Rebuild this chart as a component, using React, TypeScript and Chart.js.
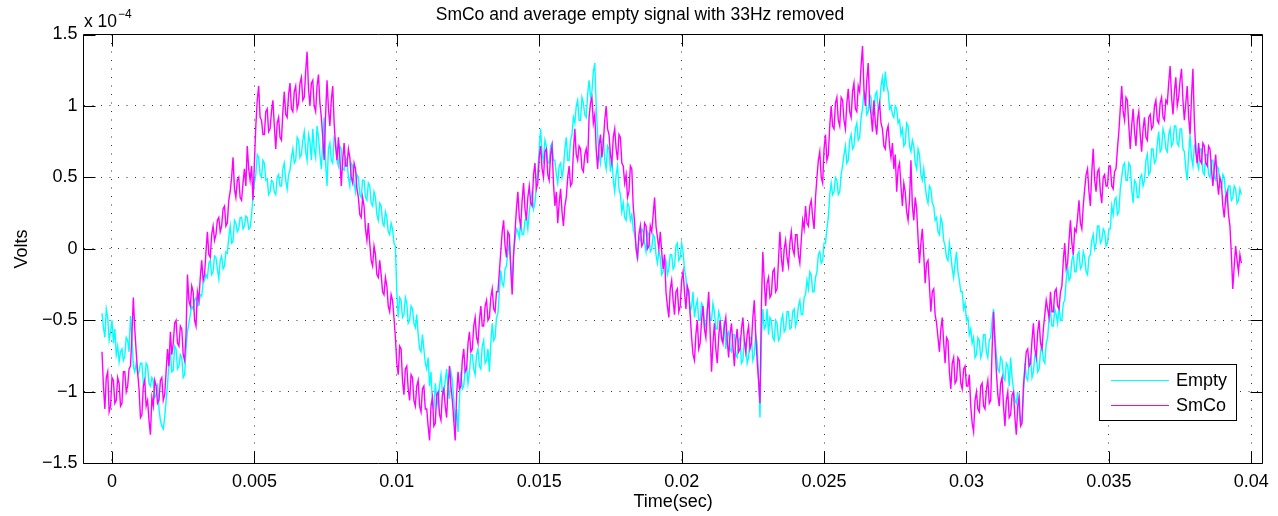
import React, { useEffect, useRef } from "react";
import { Chart, registerables } from "chart.js";

Chart.register(...registerables);

// ---- data (volts, in units of 1e-4) ----
const T0 = -0.00035; // time of first sample (s)
const DT = 0.00005; // sample spacing (s)

const EMPTY = [
  -0.45, -0.55, -0.62, -0.42, -0.48, -0.64, -0.58, -0.50, -0.66, -0.56, -0.74, -0.68, -0.79, -0.72, -0.70, -0.78, -0.75, -0.62, -0.64, -0.72,
  -0.47, -0.62, -0.82, -0.86, -0.80, -0.88, -0.86, -0.80, -0.80, -0.94, -0.92, -0.80, -0.82, -0.94, -0.96, -0.90, -0.92, -1.04, -1.02, -0.94,
  -1.12, -1.20, -1.24, -1.26, -1.18, -1.06, -0.95, -0.80, -0.72, -0.86, -0.85, -0.68, -0.70, -0.84, -0.82, -0.74, -0.76, -0.90, -0.88, -0.70,
  -0.58, -0.52, -0.46, -0.40, -0.42, -0.36, -0.34, -0.40, -0.39, -0.32, -0.33, -0.24, -0.22, -0.18, -0.20, -0.10, -0.08, -0.18, -0.16, -0.05,
  -0.06, -0.14, -0.21, -0.08, -0.05, -0.14, -0.12, -0.02, -0.03, 0.08, 0.16, 0.04, 0.05, 0.20, 0.18, 0.12, 0.14, 0.22, 0.22, 0.14,
  0.16, 0.23, 0.22, 0.14, 0.15, 0.24, 0.36, 0.46, 0.52, 0.66, 0.64, 0.52, 0.50, 0.62, 0.60, 0.48, 0.49, 0.38, 0.40, 0.48,
  0.47, 0.40, 0.38, 0.50, 0.52, 0.44, 0.44, 0.56, 0.60, 0.48, 0.42, 0.52, 0.55, 0.64, 0.70, 0.60, 0.62, 0.78, 0.76, 0.64,
  0.66, 0.76, 0.82, 0.68, 0.62, 0.80, 0.75, 0.62, 0.84, 0.70, 0.64, 0.86, 0.78, 0.66, 0.56, 0.74, 0.92, 0.60, 0.44, 0.70,
  0.74, 0.62, 0.60, 0.78, 0.76, 0.62, 0.58, 0.72, 0.70, 0.56, 0.55, 0.64, 0.62, 0.50, 0.44, 0.60, 0.58, 0.46, 0.40, 0.52,
  0.50, 0.38, 0.36, 0.48, 0.48, 0.36, 0.34, 0.46, 0.44, 0.32, 0.30, 0.40, 0.36, 0.24, 0.20, 0.32, 0.30, 0.18, 0.16, 0.26,
  0.22, 0.12, 0.10, 0.18, 0.14, 0.04, 0.02, -0.30, -0.48, -0.34, -0.36, -0.48, -0.46, -0.34, -0.38, -0.52, -0.50, -0.40, -0.42, -0.52,
  -0.55, -0.46, -0.60, -0.70, -0.72, -0.60, -0.70, -0.80, -0.84, -0.76, -0.96, -0.86, -1.08, -1.12, -0.94, -1.04, -1.10, -0.96, -0.88, -1.00,
  -1.02, -0.92, -0.84, -0.98, -1.05, -0.86, -0.92, -1.06, -1.22, -1.12, -1.28, -1.04, -0.86, -0.98, -0.96, -0.84, -0.82, -0.94, -0.86, -0.74,
  -0.74, -0.84, -0.88, -0.74, -0.70, -0.82, -0.84, -0.68, -0.64, -0.80, -0.78, -0.70, -0.86, -0.66, -0.52, -0.64, -0.62, -0.48, -0.45, -0.30,
  -0.15, -0.24, -0.26, -0.14, -0.12, -0.02, 0.05, -0.10, -0.26, -0.02, 0.06, 0.14, 0.12, 0.08, 0.20, 0.10, 0.10, 0.20, 0.22, 0.14,
  0.26, 0.34, 0.40, 0.28, 0.32, 0.44, 0.55, 0.70, 0.84, 0.66, 0.62, 0.76, 0.72, 0.60, 0.60, 0.72, 0.74, 0.62, 0.62, 0.52,
  0.46, 0.58, 0.60, 0.50, 0.56, 0.70, 0.78, 0.62, 0.62, 0.76, 0.80, 0.92, 0.88, 1.00, 1.04, 0.90, 0.90, 1.06, 1.02, 0.94,
  0.92, 1.08, 1.18, 1.06, 1.10, 1.24, 1.30, 1.00, 0.80, 0.66, 0.60, 0.74, 0.78, 0.62, 0.56, 0.72, 0.70, 0.54, 0.64, 0.48,
  0.40, 0.52, 0.58, 0.42, 0.38, 0.26, 0.32, 0.22, 0.20, 0.32, 0.30, 0.20, 0.24, 0.14, 0.10, 0.02, -0.08, 0.08, 0.06, 0.14,
  0.12, 0.04, -0.02, 0.12, 0.10, -0.02, 0.00, 0.10, 0.08, -0.04, -0.10, -0.02, -0.06, -0.18, -0.16, -0.06, -0.08, -0.18, -0.14, -0.04,
  -0.04, -0.14, -0.12, 0.02, 0.04, -0.08, -0.06, 0.04, -0.02, -0.14, -0.20, -0.32, -0.30, -0.44, -0.40, -0.30, -0.48, -0.40, -0.36, -0.50,
  -0.50, -0.38, -0.40, -0.52, -0.54, -0.42, -0.36, -0.50, -0.50, -0.38, -0.44, -0.56, -0.56, -0.44, -0.48, -0.64, -0.62, -0.50, -0.70, -0.60,
  -0.58, -0.70, -0.72, -0.60, -0.60, -0.74, -0.76, -0.64, -0.62, -0.80, -0.78, -0.64, -0.66, -0.80, -0.76, -0.62, -0.62, -0.78, -0.74, -0.60,
  -0.66, -0.90, -1.18, -0.62, -0.42, -0.56, -0.54, -0.42, -0.60, -0.48, -0.50, -0.62, -0.64, -0.50, -0.52, -0.64, -0.62, -0.50, -0.46, -0.58,
  -0.56, -0.44, -0.44, -0.56, -0.55, -0.44, -0.42, -0.54, -0.50, -0.40, -0.36, -0.46, -0.46, -0.34, -0.32, -0.22, -0.28, -0.16, -0.18, -0.30,
  -0.30, -0.20, -0.16, -0.04, -0.02, -0.10, -0.08, 0.04, 0.04, 0.14, 0.22, 0.38, 0.46, 0.38, 0.40, 0.50, 0.48, 0.38, 0.40, 0.52,
  0.58, 0.66, 0.72, 0.60, 0.62, 0.76, 0.80, 0.70, 0.72, 0.84, 0.88, 0.76, 0.78, 0.92, 0.98, 1.10, 1.08, 0.94, 0.96, 1.08,
  1.06, 0.94, 0.95, 1.08, 1.10, 0.98, 1.00, 1.14, 1.20, 1.10, 1.24, 1.14, 1.10, 0.98, 1.00, 0.94, 0.92, 1.00, 0.98, 0.88,
  0.90, 0.80, 0.84, 0.72, 0.74, 0.88, 0.86, 0.72, 0.68, 0.76, 0.72, 0.60, 0.56, 0.70, 0.66, 0.52, 0.48, 0.56, 0.44, 0.36,
  0.32, 0.44, 0.42, 0.32, 0.30, 0.20, 0.22, 0.12, 0.10, 0.22, 0.18, 0.06, 0.02, -0.06, -0.08, 0.04, -0.04, -0.14, -0.20, -0.10,
  -0.02, -0.16, -0.22, -0.30, -0.30, -0.42, -0.38, -0.50, -0.48, -0.60, -0.56, -0.66, -0.62, -0.76, -0.74, -0.62, -0.64, -0.76, -0.72, -0.60,
  -0.60, -0.72, -0.76, -0.64, -0.62, -0.50, -0.42, -0.62, -0.74, -0.84, -0.86, -0.76, -0.78, -0.90, -0.92, -0.80, -0.82, -0.96, -0.76, -0.90,
  -0.98, -1.06, -1.08, -1.00, -1.14, -1.22, -1.20, -1.02, -0.80, -0.90, -0.92, -0.78, -0.76, -0.90, -0.86, -0.74, -0.72, -0.86, -0.84, -0.72,
  -0.66, -0.78, -0.80, -0.66, -0.62, -0.48, -0.44, -0.54, -0.54, -0.42, -0.46, -0.52, -0.40, -0.50, -0.50, -0.38, -0.36, -0.22, -0.12, -0.22,
  -0.20, -0.08, -0.04, -0.16, -0.16, -0.04, -0.02, -0.14, -0.12, -0.02, -0.06, -0.16, -0.18, -0.06, -0.04, 0.06, 0.10, 0.00, 0.04, 0.16,
  0.16, 0.04, 0.06, 0.14, 0.12, 0.02, 0.04, 0.14, 0.14, 0.30, 0.24, 0.34, 0.36, 0.24, 0.26, 0.42, 0.50, 0.58, 0.60, 0.48,
  0.48, 0.60, 0.58, 0.42, 0.32, 0.48, 0.46, 0.36, 0.36, 0.50, 0.52, 0.44, 0.48, 0.62, 0.66, 0.52, 0.54, 0.70, 0.70, 0.60,
  0.62, 0.74, 0.82, 0.68, 0.70, 0.84, 0.80, 0.70, 0.68, 0.80, 0.84, 0.72, 0.74, 0.86, 0.86, 0.74, 0.72, 0.84, 0.84, 0.70,
  0.68, 0.56, 0.48, 0.66, 0.80, 0.64, 0.58, 0.72, 0.74, 0.60, 0.56, 0.70, 0.70, 0.54, 0.52, 0.66, 0.66, 0.52, 0.50, 0.62,
  0.62, 0.50, 0.48, 0.58, 0.56, 0.44, 0.42, 0.52, 0.50, 0.38, 0.32, 0.44, 0.44, 0.34, 0.36, 0.44, 0.42, 0.32, 0.34, 0.42,
  0.38,
];

const SMCO = [
  -0.72, -0.96, -1.12, -0.90, -0.86, -1.14, -1.10, -0.90, -0.92, -1.08, -1.06, -0.90, -0.94, -1.10, -1.08, -0.86, -0.86, -1.00, -0.96, -0.84,
  -0.82, -0.60, -0.34, -0.56, -0.72, -0.86, -0.98, -1.18, -1.16, -0.96, -0.92, -1.10, -1.06, -1.20, -1.30, -1.04, -1.10, -0.92, -0.96, -1.08,
  -1.06, -0.92, -0.90, -1.06, -1.02, -0.86, -0.70, -0.82, -0.58, -0.74, -0.66, -0.52, -0.50, -0.66, -0.68, -0.54, -0.56, -0.74, -0.78, -0.60,
  -0.18, -0.36, -0.40, -0.26, -0.30, -0.50, -0.54, -0.30, -0.36, -0.20, -0.08, -0.22, -0.18, -0.02, 0.12, -0.04, -0.06, 0.10, 0.16, 0.06,
  0.10, 0.20, 0.22, 0.12, 0.16, 0.28, 0.30, 0.16, 0.18, 0.34, 0.40, 0.50, 0.64, 0.42, 0.36, 0.48, 0.50, 0.36, 0.34, 0.46,
  0.56, 0.44, 0.72, 0.56, 0.48, 0.58, 0.34, 0.60, 0.86, 1.04, 1.14, 0.92, 0.90, 0.80, 0.80, 0.96, 0.98, 0.82, 0.84, 0.96,
  1.04, 0.86, 0.70, 0.88, 0.92, 0.78, 0.76, 0.96, 1.10, 0.94, 0.92, 1.08, 1.16, 0.98, 0.96, 1.10, 1.14, 0.98, 1.02, 1.16,
  1.20, 1.04, 1.06, 1.24, 1.38, 1.12, 1.00, 1.16, 1.18, 1.00, 0.96, 1.14, 1.22, 1.02, 0.92, 0.78, 0.62, 0.94, 1.18, 0.98,
  0.86, 1.04, 1.14, 0.88, 0.72, 0.62, 0.78, 0.64, 0.44, 0.62, 0.74, 0.58, 0.58, 0.70, 0.64, 0.50, 0.46, 0.60, 0.56, 0.42,
  0.36, 0.24, 0.22, 0.36, 0.30, 0.14, 0.06, 0.18, 0.04, -0.08, -0.12, 0.02, -0.04, -0.18, -0.20, -0.08, -0.18, -0.30, -0.32, -0.20,
  -0.26, -0.40, -0.44, -0.32, -0.36, -0.48, -0.62, -0.80, -0.88, -0.68, -0.70, -0.92, -1.02, -0.84, -0.82, -0.98, -1.06, -0.88, -0.90, -1.06,
  -1.10, -0.96, -0.92, -1.10, -1.14, -0.98, -0.96, -1.12, -1.12, -1.24, -1.34, -1.10, -1.04, -1.24, -1.22, -1.02, -1.00, -1.16, -1.20, -1.02,
  -0.98, -1.10, -1.18, -0.96, -0.82, -0.96, -1.06, -1.20, -1.34, -1.02, -0.86, -0.98, -0.96, -0.78, -0.70, -0.86, -0.84, -0.66, -0.58, -0.72,
  -0.70, -0.54, -0.48, -0.62, -0.66, -0.50, -0.40, -0.54, -0.54, -0.40, -0.36, -0.50, -0.48, -0.34, -0.28, -0.42, -0.44, -0.30, -0.30, -0.16,
  -0.02, 0.12, 0.20, 0.02, -0.06, 0.12, 0.10, -0.14, -0.32, -0.04, 0.12, 0.28, 0.40, 0.22, 0.16, 0.34, 0.46, 0.28, 0.20, 0.36,
  0.44, 0.32, 0.30, 0.52, 0.60, 0.42, 0.46, 0.64, 0.72, 0.56, 0.50, 0.68, 0.70, 0.52, 0.48, 0.66, 0.72, 0.46, 0.30, 0.40,
  0.18, 0.32, 0.42, 0.26, 0.16, 0.30, 0.36, 0.50, 0.58, 0.44, 0.46, 0.68, 0.84, 0.66, 0.62, 0.72, 0.70, 0.56, 0.54, 0.66,
  0.70, 0.60, 0.92, 1.02, 1.06, 0.88, 0.94, 0.70, 0.56, 0.72, 0.80, 0.64, 0.74, 0.90, 1.00, 0.84, 0.80, 0.66, 0.60, 0.78,
  0.84, 0.70, 0.62, 0.80, 0.78, 0.60, 0.58, 0.46, 0.52, 0.36, 0.40, 0.58, 0.56, 0.30, 0.18, 0.00, -0.06, 0.10, 0.16, 0.02,
  0.04, 0.18, 0.16, 0.00, 0.02, 0.16, 0.12, 0.24, 0.36, 0.16, 0.08, 0.00, 0.12, -0.02, -0.14, -0.04, -0.30, -0.40, -0.48, -0.28,
  -0.22, -0.36, -0.46, -0.30, -0.28, -0.44, -0.40, -0.22, -0.16, -0.30, -0.42, -0.26, -0.30, -0.46, -0.62, -0.74, -0.78, -0.60, -0.50, -0.70,
  -0.66, -0.50, -0.40, -0.56, -0.62, -0.44, -0.30, -0.58, -0.86, -0.66, -0.52, -0.70, -0.80, -0.62, -0.50, -0.62, -0.66, -0.54, -0.48, -0.64,
  -0.76, -0.60, -0.52, -0.68, -0.82, -0.64, -0.56, -0.72, -0.70, -0.56, -0.48, -0.64, -0.72, -0.60, -0.54, -0.70, -0.66, -0.48, -0.36, -0.60,
  -0.78, -0.92, -1.08, -0.40, -0.02, -0.22, -0.40, -0.24, -0.20, -0.34, -0.32, -0.16, -0.14, -0.30, -0.28, -0.08, 0.12, -0.06, -0.16, 0.00,
  0.06, -0.06, -0.12, 0.04, 0.12, 0.00, -0.04, 0.10, 0.10, -0.04, -0.10, 0.06, 0.20, 0.14, 0.30, 0.18, 0.16, 0.30, 0.34, 0.22,
  0.14, 0.36, 0.50, 0.62, 0.68, 0.50, 0.46, 0.70, 0.80, 0.62, 0.66, 0.86, 1.00, 0.86, 0.84, 1.02, 1.06, 0.90, 0.86, 1.06,
  1.04, 0.90, 0.84, 1.02, 1.12, 0.96, 0.92, 1.10, 1.16, 0.98, 0.96, 1.14, 1.10, 1.28, 1.42, 1.12, 1.00, 1.18, 1.30, 1.02,
  0.94, 0.82, 1.04, 0.88, 0.80, 0.96, 1.02, 0.88, 0.84, 0.72, 0.70, 0.82, 0.86, 0.72, 0.64, 0.74, 0.56, 0.66, 0.40, 0.56,
  0.60, 0.44, 0.30, 0.46, 0.40, 0.26, 0.20, 0.34, 0.62, 0.30, 0.20, 0.36, 0.28, 0.08, -0.10, 0.04, 0.14, -0.04, -0.24, -0.10,
  -0.08, -0.26, -0.44, -0.30, -0.28, -0.46, -0.52, -0.62, -0.72, -0.56, -0.48, -0.66, -0.80, -0.62, -0.64, -0.86, -0.98, -0.80, -0.76, -0.94,
  -0.92, -0.76, -0.78, -0.94, -0.98, -0.84, -0.82, -0.96, -0.96, -0.88, -1.10, -1.22, -1.28, -1.06, -1.00, -1.12, -1.14, -0.96, -0.94, -1.10,
  -1.12, -0.98, -0.92, -1.08, -1.06, -0.70, -0.44, -0.66, -0.86, -1.02, -1.10, -0.94, -0.90, -1.10, -1.24, -1.06, -1.00, -1.18, -1.16, -1.02,
  -1.00, -1.18, -1.30, -1.10, -1.04, -1.24, -1.22, -0.96, -0.84, -0.72, -0.70, -0.82, -0.80, -0.64, -0.52, -0.70, -0.76, -0.58, -0.50, -0.66,
  -0.70, -0.56, -0.46, -0.36, -0.42, -0.48, -0.30, -0.44, -0.44, -0.30, -0.28, -0.40, -0.42, -0.30, -0.26, -0.08, 0.04, -0.14, -0.10, 0.06,
  0.20, 0.04, -0.04, 0.14, 0.12, 0.22, 0.34, 0.18, 0.14, 0.30, 0.42, 0.52, 0.56, 0.40, 0.30, 0.54, 0.70, 0.48, 0.40, 0.54,
  0.56, 0.40, 0.32, 0.50, 0.52, 0.44, 0.44, 0.58, 0.58, 0.44, 0.42, 0.54, 0.56, 0.70, 0.82, 0.98, 1.14, 0.96, 0.90, 1.06,
  1.04, 0.86, 0.70, 0.86, 0.98, 0.82, 0.72, 0.90, 0.96, 0.80, 0.68, 0.84, 0.92, 0.78, 0.76, 0.92, 0.94, 0.84, 0.86, 1.00,
  1.04, 0.90, 0.88, 1.02, 1.06, 0.92, 0.90, 1.04, 1.02, 1.16, 1.28, 1.06, 0.94, 1.10, 1.20, 1.00, 1.06, 1.18, 1.26, 1.04,
  0.90, 1.02, 1.14, 0.92, 0.80, 1.06, 1.26, 0.90, 0.68, 0.60, 0.74, 0.62, 0.60, 0.74, 0.72, 0.60, 0.58, 0.72, 0.70, 0.56,
  0.44, 0.56, 0.66, 0.48, 0.38, 0.50, 0.46, 0.30, 0.22, 0.36, 0.40, 0.24, 0.16, -0.04, -0.28, -0.12, 0.02, -0.08, -0.16, -0.04,
  -0.10,
];

const SERIES_NAMES = ["Empty", "SmCo"];
const SERIES_COLORS = ["#00ffff", "#ff00ff"];

const X_MIN = -0.001;
const X_MAX = 0.0404;
const Y_MIN = -1.5;
const Y_MAX = 1.5;
const X_TICKS = [0, 0.005, 0.01, 0.015, 0.02, 0.025, 0.03, 0.035, 0.04];
const X_TICK_LABELS = ["0", "0.005", "0.01", "0.015", "0.02", "0.025", "0.03", "0.035", "0.04"];
const Y_TICKS = [-1.5, -1, -0.5, 0, 0.5, 1, 1.5];
const Y_TICK_LABELS = ["\u22121.5", "\u22121", "\u22120.5", "0", "0.5", "1", "1.5"];

const TITLE = "SmCo and average empty signal with 33Hz removed";
const X_LABEL = "Time(sec)";
const Y_LABEL = "Volts";
const Y_EXP_BASE = "x 10";
const Y_EXP_POWER = "\u22124";

const FONT = "'Liberation Sans', Arial, Helvetica, sans-serif";
const W = 1278;
const H = 516;

const TIMES = EMPTY.map((_, i) => T0 + i * DT);

const matlabFrame = {
  id: "matlabFrame",
  afterDatasetsDraw(chart: any) {
    const { ctx, chartArea: a, scales } = chart;
    const xs = scales.x;
    const ys = scales.y;
    const L = Math.floor(a.left) + 0.5;
    const R = Math.floor(a.right) + 0.5;
    const T = Math.floor(a.top) + 0.5;
    const B = Math.floor(a.bottom) + 0.5;
    const TL = 12;
    ctx.save();
    ctx.strokeStyle = "#000";
    ctx.lineWidth = 1;
    ctx.setLineDash([]);
    ctx.beginPath();
    ctx.rect(L, T, R - L, B - T);
    X_TICKS.forEach((v) => {
      const px = Math.round(xs.getPixelForValue(v)) + 0.5;
      ctx.moveTo(px, B);
      ctx.lineTo(px, B - TL);
      ctx.moveTo(px, T);
      ctx.lineTo(px, T + TL);
    });
    Y_TICKS.forEach((v) => {
      const py = Math.round(ys.getPixelForValue(v)) + 0.5;
      ctx.moveTo(L, py);
      ctx.lineTo(L + TL, py);
      ctx.moveTo(R, py);
      ctx.lineTo(R - TL, py);
    });
    ctx.stroke();

    // texts
    ctx.fillStyle = "#000";
    ctx.textAlign = "center";
    ctx.textBaseline = "alphabetic";
    ctx.font = `17.5px ${FONT}`;
    ctx.fillText(TITLE, 640, 19.5);
    ctx.font = `18px ${FONT}`;
    ctx.fillText(X_LABEL, (a.left + a.right) / 2, 507);
    ctx.save();
    ctx.translate(27, (a.top + a.bottom) / 2);
    ctx.rotate(-Math.PI / 2);
    ctx.fillText(Y_LABEL, 0, 0);
    ctx.restore();

    ctx.textAlign = "left";
    ctx.font = `17.5px ${FONT}`;
    ctx.fillText(Y_EXP_BASE, 84, 27);
    const bw = ctx.measureText(Y_EXP_BASE).width;
    ctx.font = `12px ${FONT}`;
    ctx.fillText(Y_EXP_POWER, 84 + bw + 1, 18);

    // legend
    const lx = 1099.5, ly = 364.5, lw = 137, lh = 56;
    ctx.fillStyle = "#fff";
    ctx.fillRect(lx, ly, lw, lh);
    ctx.strokeStyle = "#000";
    ctx.lineWidth = 1;
    ctx.strokeRect(lx, ly, lw, lh);
    ctx.font = `18px ${FONT}`;
    ctx.textBaseline = "middle";
    chart.data.datasets.forEach((ds: any, i: number) => {
      const yy = 380.5 + i * 25;
      ctx.strokeStyle = ds.borderColor;
      ctx.lineWidth = 1;
      ctx.beginPath();
      ctx.moveTo(1111, yy);
      ctx.lineTo(1169, yy);
      ctx.stroke();
      ctx.fillStyle = "#000";
      ctx.fillText(ds.label, 1176, yy + 1);
    });
    ctx.restore();
  },
};

export default function App() {
  const ref = useRef<HTMLCanvasElement | null>(null);

  useEffect(() => {
    if (!ref.current) return;
    const gridColor = "rgba(0,0,0,0.8)";
    const chart = new Chart(ref.current, {
      type: "line",
      data: {
        datasets: [
          {
            label: SERIES_NAMES[0],
            data: EMPTY.map((v, i) => ({ x: TIMES[i], y: v })),
            borderColor: SERIES_COLORS[0],
            backgroundColor: SERIES_COLORS[0],
            borderWidth: 1.4,
            pointRadius: 0,
            tension: 0,
            order: 1,
          },
          {
            label: SERIES_NAMES[1],
            data: SMCO.map((v, i) => ({ x: TIMES[i], y: v })),
            borderColor: SERIES_COLORS[1],
            backgroundColor: SERIES_COLORS[1],
            borderWidth: 1.4,
            pointRadius: 0,
            tension: 0,
            order: 0,
          },
        ],
      },
      options: {
        animation: false,
        responsive: false,
        devicePixelRatio: 1,
        events: [],
        layout: { padding: { left: 0, right: 15.3, top: 34.5, bottom: 0 } },
        plugins: {
          legend: { display: false },
          title: { display: false },
          tooltip: { enabled: false },
        },
        scales: {
          x: {
            type: "linear",
            min: X_MIN,
            max: X_MAX,
            afterFit: (s: any) => {
              s.height = 52.7;
            },
            afterBuildTicks: (s: any) => {
              s.ticks = X_TICKS.map((v) => ({ value: v }));
            },
            grid: { color: gridColor, lineWidth: 1, drawTicks: false },
            border: { display: false, dash: [1, 7.5] },
            ticks: {
              color: "#000",
              padding: 8,
              maxRotation: 0,
              autoSkip: false,
              font: { family: FONT, size: 18 },
              callback: (_v: any, i: number) => X_TICK_LABELS[i],
            },
          },
          y: {
            type: "linear",
            min: Y_MIN,
            max: Y_MAX,
            afterFit: (s: any) => {
              s.width = 83.5;
            },
            afterBuildTicks: (s: any) => {
              s.ticks = Y_TICKS.map((v) => ({ value: v }));
            },
            grid: { color: gridColor, lineWidth: 1, drawTicks: false },
            border: { display: false, dash: [1, 7.5] },
            ticks: {
              color: "#000",
              padding: 6,
              autoSkip: false,
              font: { family: FONT, size: 18 },
              callback: (_v: any, i: number) => Y_TICK_LABELS[i],
            },
          },
        },
      },
      plugins: [matlabFrame],
    } as any);
    return () => chart.destroy();
  }, []);

  return (
    <div style={{ position: "fixed", left: 0, top: 0, width: W, height: H, background: "#fff" }}>
      <canvas ref={ref} width={W} height={H} style={{ display: "block", width: W, height: H }} />
    </div>
  );
}
